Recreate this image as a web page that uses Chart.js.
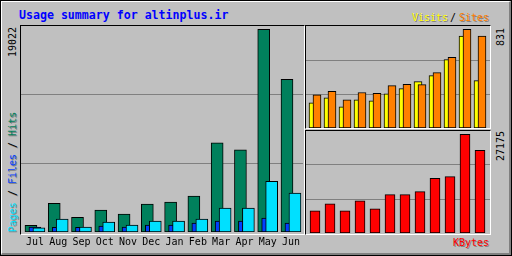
<!DOCTYPE html>
<html>
<head>
<meta charset="utf-8">
<script src="https://cdn.jsdelivr.net/npm/chart.js@4/dist/chart.umd.min.js"></script>
<style>
    body { margin: 0; background: #C0C0C0; }
    #frame { position: relative; width: 512px; height: 256px; background: #C0C0C0; overflow: hidden; }
    .box { position: absolute; box-sizing: border-box; }
    #outer { left: 0; top: 0; width: 512px; height: 256px; border: 1px solid #000; }
    #bevel { left: 1px; top: 1px; width: 510px; height: 254px; border-top: 1px solid #fff; border-left: 1px solid #fff; border-right: 2px solid #808080; border-bottom: 2px solid #808080; }
    .panel { border-top: 1px solid #000; border-left: 1px solid #000; border-right: 1px solid #fff; border-bottom: 1px solid #fff; }
    canvas { position: absolute; }
    .txt { position: absolute; font-family: "DejaVu Sans Mono", monospace; font-size: 10px; line-height: 12px; white-space: nowrap; }
    .up { transform: translate(-50%, -50%) rotate(-90deg); }
</style>
</head>
<body>
<div id="frame">
    <div class="box" id="outer"></div>
    <div class="box" id="bevel"></div>
    <div class="box panel" style="left:20px;top:25px;width:285px;height:210px"></div>
    <div class="box panel" style="left:305px;top:25px;width:186px;height:104px"></div>
    <div class="box panel" style="left:305px;top:130px;width:186px;height:105px"></div>

    <canvas id="mainChart" width="283" height="230" style="left:21px;top:26px"></canvas>
    <canvas id="visitChart" width="184" height="102" style="left:306px;top:26px"></canvas>
    <canvas id="kbyteChart" width="184" height="102" style="left:306px;top:131px"></canvas>

    <div class="txt" style="left:19px;top:9px;font-size:11.6px;font-weight:bold;color:#0000FF">Usage summary for altinplus.ir</div>
    <div class="txt" style="left:412px;top:11.5px;color:#FFFF00;text-shadow:1px 1px 0 #808080">Visits</div>
    <div class="txt" style="left:450px;top:11.5px;color:#000">/</div>
    <div class="txt" style="left:459px;top:11.5px;color:#FF8000;text-shadow:1px 1px 0 #808080">Sites</div>
    <div class="txt" style="left:453px;top:236.5px;color:#FF0000;text-shadow:1px 1px 0 #808080">KBytes</div>

    <div class="txt up" style="left:13px;top:42px;color:#000">19022</div>
    <div class="txt up" style="left:12.5px;top:172px;text-shadow:-1px 1px 0 #808080"><span style="color:#00E0FF">Pages</span> / <span style="color:#0040FF">Files</span> / <span style="color:#00805C">Hits</span></div>
    <div class="txt up" style="left:501px;top:37px;color:#000">831</div>
    <div class="txt up" style="left:501px;top:146px;color:#000">27175</div>
</div>

<script>
const months = ['Jul', 'Aug', 'Sep', 'Oct', 'Nov', 'Dec', 'Jan', 'Feb', 'Mar', 'Apr', 'May', 'Jun'];
const hits   = [620, 2700, 1370, 2050, 1680, 2610, 2800, 3360, 8360, 7710, 19022, 14330];
const files  = [470, 440, 440, 560, 470, 650, 650, 840, 1030, 1030, 1310, 840];
const pages  = [400, 1210, 470, 930, 650, 1030, 1030, 1210, 2240, 2240, 4760, 3640];
const visits = [212, 254, 178, 237, 229, 288, 331, 390, 441, 576, 774, 399];
const sites  = [280, 308, 237, 299, 291, 356, 367, 365, 466, 594, 831, 774];
const kbytes = [6100, 8040, 6100, 8870, 6650, 10540, 10540, 11370, 15060, 15530, 27175, 22740];

// bars sit side by side with a small overlap, webalizer style
const mainShift = 0.171;
const sideShift = 0.133;

function at(values, shift) {
    return values.map((v, i) => ({ x: i + shift, y: v }));
}

// two grey lines at one and two thirds of the panel
function thirds(scale) {
    scale.ticks = [{ value: scale.max / 3 }, { value: scale.max * 2 / 3 }];
}

function barSet(label, values, shift, color, width) {
    return {
        label: label,
        data: at(values, shift),
        backgroundColor: color,
        borderColor: '#000000',
        borderWidth: 1,
        borderSkipped: false,
        grouped: false,
        barThickness: width
    };
}

function yAxis(maxValue) {
    return {
        min: 0,
        max: maxValue,
        display: true,
        ticks: { display: false },
        grid: { color: '#808080', drawTicks: false },
        border: { display: false },
        afterBuildTicks: thirds
    };
}

const common = {
    responsive: false,
    animation: false,
    events: [],
    plugins: { legend: { display: false }, tooltip: { enabled: false } }
};

const mainCtx = document.getElementById('mainChart').getContext('2d');

new Chart(mainCtx, {
    type: 'bar',
    data: {
        datasets: [
            barSet('Pages', pages, mainShift, '#00E0FF', 12),
            barSet('Files', files, 0, '#0040FF', 12),
            barSet('Hits', hits, -mainShift, '#00805C', 12)
        ]
    },
    options: {
        ...common,
        layout: { padding: { left: 0, right: 0, top: 0, bottom: 4 } },
        scales: {
            x: {
                type: 'linear',
                offset: false,
                min: -0.599,
                max: 11.516,
                grid: { display: false, drawTicks: false },
                border: { display: false },
                afterBuildTicks: function(scale) {
                    scale.ticks = months.map((m, i) => ({ value: i }));
                },
                ticks: {
                    autoSkip: false,
                    maxRotation: 0,
                    minRotation: 0,
                    padding: 4,
                    color: '#000000',
                    font: { family: 'DejaVu Sans Mono', size: 10 },
                    callback: function(value) {
                        return months[value];
                    }
                }
            },
            y: yAxis(Math.max(...hits) * 1.016)
        }
    }
});

const visitCtx = document.getElementById('visitChart').getContext('2d');

new Chart(visitCtx, {
    type: 'bar',
    data: {
        datasets: [
            barSet('Sites', sites, sideShift, '#FF8000', 8),
            barSet('Visits', visits, -sideShift, '#FFFF00', 8)
        ]
    },
    options: {
        ...common,
        layout: { padding: 0 },
        scales: {
            x: { type: 'linear', offset: false, min: -0.6, max: 11.667, display: false },
            y: yAxis(Math.max(...sites) * 1.033)
        }
    }
});

const kbyteCtx = document.getElementById('kbyteChart').getContext('2d');

new Chart(kbyteCtx, {
    type: 'bar',
    data: {
        datasets: [
            barSet('KBytes', kbytes, 0, '#FF0000', 10)
        ]
    },
    options: {
        ...common,
        layout: { padding: 0 },
        scales: {
            x: { type: 'linear', offset: false, min: -0.6, max: 11.667, display: false },
            y: yAxis(Math.max(...kbytes) * 1.033)
        }
    }
});
</script>
</body>
</html>
